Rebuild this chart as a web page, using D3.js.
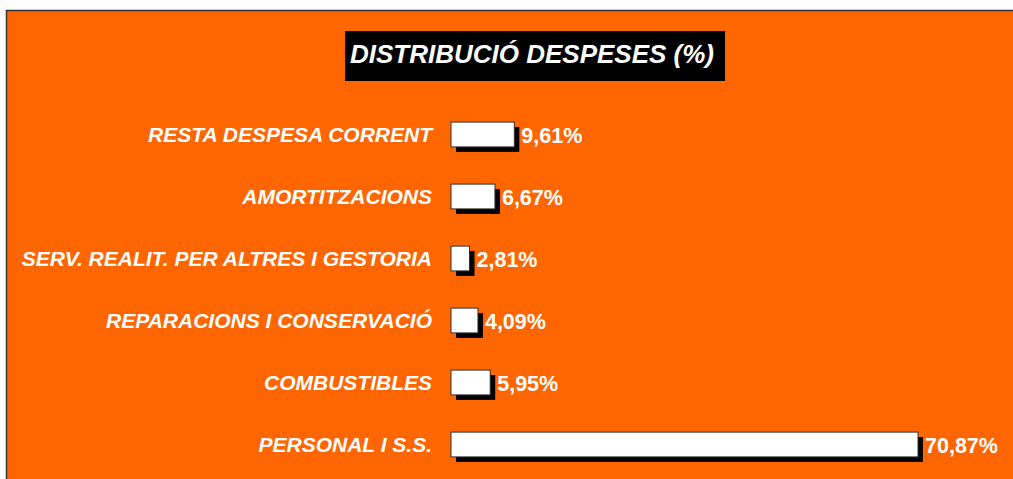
<!DOCTYPE html>
<html lang="ca">
<head>
  <meta charset="UTF-8">
  <title>Distribució despeses</title>
  <script src="https://cdn.jsdelivr.net/npm/d3@7"></script>
  <style>
    body {
      margin: 0;
      background: #fff;
      font-family: "Liberation Sans", Arial, sans-serif;
    }
  </style>
</head>
<body>
  <svg width="1013" height="479"></svg>
  <script>
    const categories = [
      "RESTA DESPESA CORRENT",
      "AMORTITZACIONS",
      "SERV. REALIT. PER ALTRES I GESTORIA",
      "REPARACIONS I CONSERVACIÓ",
      "COMBUSTIBLES",
      "PERSONAL I S.S."
    ];
    const values = [9.61, 6.67, 2.81, 4.09, 5.95, 70.87];
    const valueLabels = ["9,61%", "6,67%", "2,81%", "4,09%", "5,95%", "70,87%"];
    const title = "DISTRIBUCIÓ DESPESES (%)";

    const data = categories.map((c, i) => ({ cat: c, val: values[i], lbl: valueLabels[i] }));

    const svg = d3.select("svg");

    // orange background with dark edge at top/left
    svg.append("rect")
      .attr("x", 6.5).attr("y", 10.5)
      .attr("width", 1020).attr("height", 480)
      .attr("fill", "#ff6600")
      .attr("stroke", "#333")
      .attr("stroke-width", 1.5);

    // title box
    svg.append("rect")
      .attr("x", 345).attr("y", 31)
      .attr("width", 380).attr("height", 50)
      .attr("fill", "#000");
    svg.append("text")
      .attr("x", 532).attr("y", 63)
      .attr("text-anchor", "middle")
      .attr("fill", "#fff")
      .style("font-size", "26px")
      .style("font-weight", "bold")
      .style("font-style", "italic")
      .text(title);

    const x = d3.scaleLinear()
      .domain([0, d3.max(values)])
      .range([451, 918]);

    const y = d3.scaleBand()
      .domain(categories)
      .range([103.5, 475.5])
      .paddingInner(0.6)
      .paddingOuter(0.3);

    const g = svg.append("g");

    // shadows
    g.selectAll(".shadow")
      .data(data)
      .enter().append("rect")
      .attr("class", "shadow")
      .attr("x", x(0) + 5)
      .attr("y", d => y(d.cat) + 5)
      .attr("width", d => x(d.val) - x(0))
      .attr("height", y.bandwidth())
      .attr("fill", "#000");

    g.selectAll(".bar")
      .data(data)
      .enter().append("rect")
      .attr("class", "bar")
      .attr("x", x(0))
      .attr("y", d => y(d.cat))
      .attr("width", d => x(d.val) - x(0))
      .attr("height", y.bandwidth())
      .attr("fill", "#fff")
      .attr("stroke", "#333")
      .attr("stroke-width", 1);

    g.selectAll(".cat")
      .data(data)
      .enter().append("text")
      .attr("class", "cat")
      .attr("x", 432)
      .attr("y", d => y(d.cat) + y.bandwidth() / 2 + 7.5)
      .attr("text-anchor", "end")
      .attr("fill", "#fff")
      .style("font-size", "21px")
      .style("font-weight", "bold")
      .style("font-style", "italic")
      .text(d => d.cat);

    g.selectAll(".val")
      .data(data)
      .enter().append("text")
      .attr("class", "val")
      .attr("x", d => x(d.val) + 7)
      .attr("y", d => y(d.cat) + y.bandwidth() / 2 + 8)
      .attr("fill", "#fff")
      .style("font-size", "21.5px")
      .style("font-weight", "bold")
      .text(d => d.lbl);
  </script>
</body>
</html>
